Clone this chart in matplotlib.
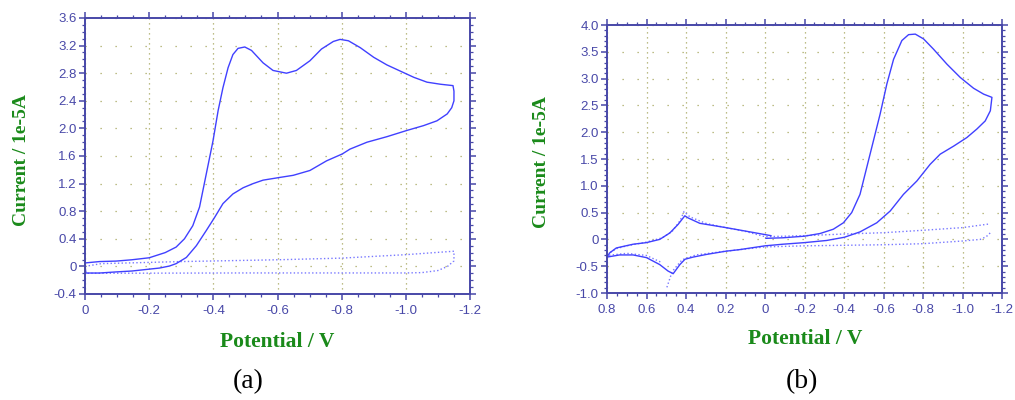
# voltametrias ciclicas (a) e (b) - curva da amostra (solida) e branco (pontilhada)
import matplotlib.pyplot as plt
from matplotlib.ticker import MultipleLocator, FuncFormatter

# ---- painel (a) ----
xa_cv = [0.0, -0.045, -0.097, -0.146, -0.2, -0.25, -0.284, -0.31, -0.336, -0.357, -0.378, -0.399,
         -0.415, -0.43, -0.446, -0.461, -0.477, -0.498, -0.519, -0.555, -0.586, -0.628, -0.659,
         -0.701, -0.737, -0.774, -0.795, -0.821, -0.858, -0.9, -0.941, -0.983, -1.025, -1.066,
         -1.108, -1.147, -1.15, -1.15,
         -1.143, -1.129, -1.097, -1.055, -1.003, -0.941, -0.879, -0.826, -0.802, -0.753, -0.701,
         -0.649, -0.608, -0.555, -0.524, -0.493, -0.461, -0.43, -0.404, -0.378, -0.347, -0.316,
         -0.284, -0.263, -0.232, -0.2, -0.146, -0.097, -0.045, -0.003, 0.0]
ya_cv = [0.05, 0.07, 0.077, 0.096, 0.125, 0.2, 0.28, 0.4, 0.59, 0.86, 1.34, 1.82,
         2.26, 2.59, 2.88, 3.07, 3.16, 3.18, 3.13, 2.95, 2.84, 2.80, 2.84,
         2.98, 3.15, 3.26, 3.29, 3.27, 3.17, 3.03, 2.92, 2.83, 2.74, 2.67,
         2.64, 2.62, 2.54, 2.40,
         2.30, 2.21, 2.11, 2.04, 1.97, 1.88, 1.80, 1.70, 1.63, 1.53, 1.39,
         1.32, 1.29, 1.25, 1.20, 1.14, 1.05, 0.91, 0.71, 0.52, 0.30, 0.13,
         0.04, 0.005, -0.024, -0.04, -0.067, -0.08, -0.096, -0.096, 0.0]
xa_branco = [0.0, -0.05, -0.3, -0.6, -0.8, -1.0, -1.15, -1.15, -1.13, -1.1, -1.05, -1.0, -0.5, 0.0]
ya_branco = [0.0, 0.04, 0.07, 0.096, 0.12, 0.17, 0.22, 0.08, 0.0, -0.06, -0.09, -0.095, -0.095, -0.1]

# ---- painel (b) ----
xb_cv = [-0.005, -0.09, -0.2, -0.279, -0.346, -0.397, -0.439, -0.481, -0.515, -0.549, -0.583,
         -0.617, -0.651, -0.693, -0.727, -0.761, -0.803, -0.853, -0.921, -0.989, -1.056, -1.107,
         -1.149,
         -1.141, -1.115, -1.073, -1.022, -0.955, -0.887, -0.836, -0.769, -0.701, -0.634, -0.566,
         -0.481, -0.402, -0.312, -0.2, -0.09, 0.0, 0.127, 0.198, 0.296, 0.364, 0.405, 0.431,
         0.465, 0.491, 0.533, 0.6, 0.668, 0.736, 0.8,
         0.786, 0.753, 0.668, 0.6, 0.533, 0.482, 0.44, 0.406, 0.389, 0.33, 0.198, 0.076, -0.03]
yb_cv = [0.02, 0.03, 0.06, 0.11, 0.19, 0.31, 0.50, 0.84, 1.34, 1.84, 2.34,
         2.90, 3.36, 3.71, 3.82, 3.83, 3.74, 3.55, 3.27, 3.02, 2.82, 2.71,
         2.65,
         2.40, 2.21, 2.06, 1.90, 1.74, 1.59, 1.40, 1.09, 0.84, 0.53, 0.31,
         0.14, 0.04, -0.02, -0.06, -0.09, -0.12, -0.19, -0.22, -0.28, -0.33, -0.37, -0.47,
         -0.64, -0.59, -0.47, -0.34, -0.29, -0.29, -0.33,
         -0.25, -0.16, -0.09, -0.06, 0.0, 0.12, 0.28, 0.44, 0.40, 0.30, 0.22, 0.14, 0.07]
xb_branco1 = [0.8, 0.75, 0.7, 0.6, 0.52, 0.47, 0.43, 0.41, 0.38, 0.3, 0.2, 0.1, 0.0,
              -0.2, -0.4, -0.6, -0.8, -1.0, -1.14]
yb_branco1 = [-0.28, -0.17, -0.12, -0.05, 0.03, 0.15, 0.35, 0.52, 0.42, 0.30, 0.22, 0.15, 0.05,
              0.07, 0.10, 0.125, 0.17, 0.22, 0.29]
xb_branco2 = [-1.14, -1.12, -1.09, -1.0, -0.8, -0.6, -0.4, -0.2, 0.0, 0.2, 0.35, 0.42, 0.47, 0.5]
yb_branco2 = [0.12, 0.05, 0.0, -0.03, -0.08, -0.1, -0.11, -0.12, -0.14, -0.22, -0.29, -0.38, -0.6, -0.93]
xb_branco3 = [0.53, 0.6, 0.7, 0.8]
yb_branco3 = [-0.42, -0.3, -0.26, -0.3]

cor_eixo = '#4848a8'
cor_linha = '#4040ff'
cor_branco = '#7878ff'
cor_grade = '#a8a860'
verde = '#1a8a1a'


def fmt(v, pos):
    if abs(v) < 1e-9:
        return '0'
    return '%.1f' % v


def prepara_eixo(ax, xlim, ylim, xmaj, ymaj, ymin):
    '''deixa o eixo no estilo do software do potenciostato'''
    ax.set_xlim(*xlim)
    ax.set_ylim(*ylim)
    ax.xaxis.set_major_locator(MultipleLocator(xmaj))
    ax.xaxis.set_minor_locator(MultipleLocator(0.05))
    ax.yaxis.set_major_locator(MultipleLocator(ymaj))
    ax.yaxis.set_minor_locator(MultipleLocator(ymin))
    ax.xaxis.set_major_formatter(FuncFormatter(fmt))
    ax.yaxis.set_major_formatter(FuncFormatter(fmt))
    for s in ax.spines.values():
        s.set_color(cor_eixo)
        s.set_linewidth(1.4)
    ax.tick_params(which='both', direction='out', color=cor_eixo, top=True, right=True,
                   labeltop=False, labelright=False)
    ax.tick_params(which='major', length=4, width=1.1, labelsize=9.5, labelcolor=cor_eixo)
    ax.tick_params(axis='x', which='major', pad=4)
    ax.tick_params(axis='y', which='major', pad=2)
    ax.tick_params(which='minor', length=2.5, width=0.9)
    for lb in ax.get_xticklabels() + ax.get_yticklabels():
        lb.set_family('Liberation Sans')
    ax.grid(True, axis='x', which='major', color=cor_grade, linestyle=(0, (1, 3)), linewidth=0.9)
    ax.grid(True, axis='y', which='major', color=cor_grade, linestyle=(0, (1, 11)), linewidth=0.9)
    ax.set_axisbelow(True)


fig = plt.figure(figsize=(10.15, 4.0), dpi=100)

axa = fig.add_axes([85 / 1015, 1 - 294 / 400, (470 - 85) / 1015, (294 - 18) / 400])
axa.plot(xa_branco, ya_branco, color=cor_branco, linestyle=':', linewidth=1.0)
axa.plot(xa_cv, ya_cv, color=cor_linha, linewidth=1.0)
prepara_eixo(axa, (0, -1.2), (-0.4, 3.6), 0.2, 0.4, 0.1)

axb = fig.add_axes([607 / 1015, 1 - 293 / 400, (1002 - 607) / 1015, (293 - 25) / 400])
axb.plot(xb_branco1, yb_branco1, color=cor_branco, linestyle=':', linewidth=1.0)
axb.plot(xb_branco2, yb_branco2, color=cor_branco, linestyle=':', linewidth=1.0)
axb.plot(xb_branco3, yb_branco3, color=cor_branco, linestyle=':', linewidth=1.0)
axb.plot(xb_cv, yb_cv, color=cor_linha, linewidth=1.0)
prepara_eixo(axb, (0.8, -1.2), (-1.0, 4.0), 0.2, 0.5, 0.1)

# rotulos dos eixos e legendas (a), (b)
rot = dict(family='Liberation Serif', weight='bold', color=verde, ha='center', va='center')
fig.text(22 / 1015, 1 - 160 / 400, 'Current / 1e-5A', rotation=90, fontsize=14, **rot)
fig.text(542 / 1015, 1 - 162 / 400, 'Current / 1e-5A', rotation=90, fontsize=14, **rot)
fig.text(277 / 1015, 1 - 342 / 400, 'Potential / V', fontsize=15.5, **rot)
fig.text(805 / 1015, 1 - 339 / 400, 'Potential / V', fontsize=15.5, **rot)
fig.text(248 / 1015, 1 - 382 / 400, '(a)', family='Liberation Serif', fontsize=20,
         ha='center', va='center')
fig.text(802 / 1015, 1 - 382 / 400, '(b)', family='Liberation Serif', fontsize=20,
         ha='center', va='center')

plt.savefig('out.png', dpi=100)
